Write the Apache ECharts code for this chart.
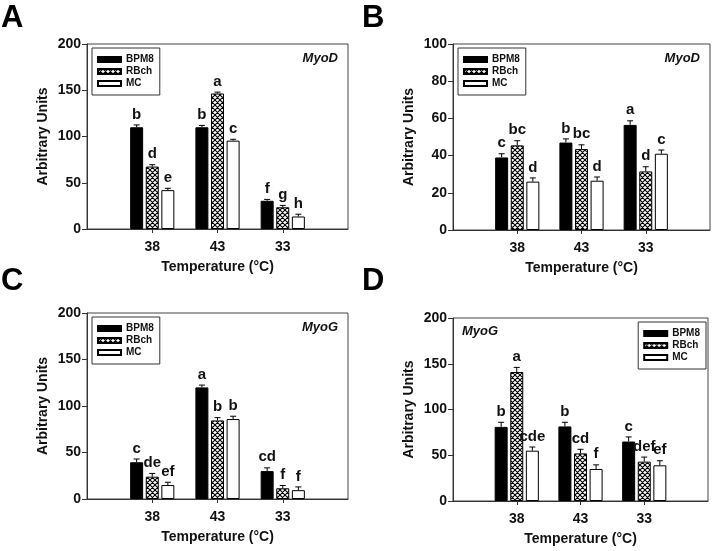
<!DOCTYPE html>
<html><head><meta charset="utf-8">
<script src="https://cdn.jsdelivr.net/npm/echarts@6/dist/echarts.min.js"></script>
<style>html,body{margin:0;padding:0;background:#fff}#c{width:714px;height:551px}</style>
</head><body><div id="c"></div>
<script>
// ---------- data ----------
const categories = ['38', '43', '33'];
const seriesNames = ['BPM8', 'RBch', 'MC'];
const panelLetters = ['A', 'B', 'C', 'D'];
const geneNames = ['MyoD', 'MyoD', 'MyoG', 'MyoG'];
const yMaxes = [200, 100, 200, 200];
const yIntervals = [50, 20, 50, 50];

// Panel A (MyoD)
const a_bpm8 = [110, 110, 30.5];
const a_rbch = [67.5, 146.5, 23.5];
const a_mc = [42, 95.5, 13.5];
const a_bpm8_err = [2.5, 2, 1.5];
const a_rbch_err = [2, 1.5, 2];
const a_mc_err = [2, 1.5, 2.5];
const a_bpm8_sig = ['b', 'b', 'f'];
const a_rbch_sig = ['d', 'a', 'g'];
const a_mc_sig = ['e', 'c', 'h'];

// Panel B (MyoD)
const b_bpm8 = [39, 47, 56.5];
const b_rbch = [45.5, 43.5, 31.5];
const b_mc = [26, 26.5, 41];
const b_bpm8_err = [2, 2, 2.2];
const b_rbch_err = [2.5, 2.3, 2.5];
const b_mc_err = [2, 2, 2];
const b_bpm8_sig = ['c', 'b', 'a'];
const b_rbch_sig = ['bc', 'bc', 'd'];
const b_mc_sig = ['d', 'd', 'c'];

// Panel C (MyoG)
const c_bpm8 = [39.5, 120, 30];
const c_rbch = [24, 84.5, 11.5];
const c_mc = [15, 86, 9.5];
const c_bpm8_err = [3.5, 2.5, 3.5];
const c_rbch_err = [3.5, 3, 3];
const c_mc_err = [3, 3, 3.5];
const c_bpm8_sig = ['c', 'a', 'cd'];
const c_rbch_sig = ['de', 'b', 'f'];
const c_mc_sig = ['ef', 'b', 'f'];

// Panel D (MyoG)
const d_bpm8 = [81, 81.5, 65];
const d_rbch = [141, 52, 43];
const d_mc = [55, 35, 39];
const d_bpm8_err = [5, 4.5, 5];
const d_rbch_err = [5, 4.5, 5];
const d_mc_err = [4, 4.5, 5];
const d_bpm8_sig = ['b', 'b', 'c'];
const d_rbch_sig = ['a', 'cd', 'def'];
const d_mc_sig = ['cde', 'f', 'ef'];

// ---------- build ----------
const panelVals = [[a_bpm8, a_rbch, a_mc], [b_bpm8, b_rbch, b_mc], [c_bpm8, c_rbch, c_mc], [d_bpm8, d_rbch, d_mc]];
const panelErrs = [[a_bpm8_err, a_rbch_err, a_mc_err], [b_bpm8_err, b_rbch_err, b_mc_err], [c_bpm8_err, c_rbch_err, c_mc_err], [d_bpm8_err, d_rbch_err, d_mc_err]];
const panelSigs = [[a_bpm8_sig, a_rbch_sig, a_mc_sig], [b_bpm8_sig, b_rbch_sig, b_mc_sig], [c_bpm8_sig, c_rbch_sig, c_mc_sig], [d_bpm8_sig, d_rbch_sig, d_mc_sig]];

const FONT = 'Arial, "Liberation Sans", sans-serif';
const BAR_W = 13;
const GAP = 0.2;
const AXIS_COLOR = '#333';

const grids = [
  { left: 87, top: 44, width: 261, height: 185 },
  { left: 453, top: 44, width: 257, height: 186 },
  { left: 87, top: 313, width: 261, height: 186 },
  { left: 453, top: 318, width: 255, height: 183 }
];

function makeHatch() {
  const n = 5;
  const c = document.createElement('canvas');
  c.width = n; c.height = n;
  const g = c.getContext('2d');
  g.fillStyle = '#fff';
  g.fillRect(0, 0, n, n);
  g.strokeStyle = '#000';
  g.lineWidth = 1.1;
  g.beginPath();
  for (let k = -n; k <= n; k += n) {
    g.moveTo(k, 0); g.lineTo(k + n, n);
    g.moveTo(k + n, 0); g.lineTo(k, n);
  }
  g.stroke();
  return c;
}
const hatch = makeHatch();

const barStyles = [
  { color: '#000', borderColor: '#000', borderWidth: 1 },
  { color: { image: hatch, repeat: 'repeat' }, borderColor: '#000', borderWidth: 1 },
  { color: '#fff', borderColor: '#000', borderWidth: 1 }
];

const xAxes = [], yAxes = [], series = [], legends = [], graphics = [];
const padCats = [''].concat(categories).concat(['']);

grids.forEach((gr, p) => {
  xAxes.push({
    type: 'category', gridIndex: p, data: padCats, boundaryGap: false,
    axisLine: { show: true, lineStyle: { color: AXIS_COLOR, width: 1 } },
    axisTick: { show: true, length: 4, interval: (i) => i > 0 && i < padCats.length - 1, lineStyle: { color: AXIS_COLOR } },
    axisLabel: { interval: 0, margin: 11, color: '#111', fontFamily: FONT, fontWeight: 'bold', fontSize: 14 },
    splitLine: { show: false },
    name: 'Temperature (°C)', nameLocation: 'middle', nameGap: 31,
    nameTextStyle: { color: '#111', fontFamily: FONT, fontWeight: 'bold', fontSize: 14 }
  });
  yAxes.push({
    type: 'value', gridIndex: p, min: 0, max: yMaxes[p], interval: yIntervals[p],
    axisLine: { show: true, lineStyle: { color: AXIS_COLOR, width: 1 } },
    axisTick: { show: true, length: 5, lineStyle: { color: AXIS_COLOR } },
    axisLabel: { margin: 6, color: '#111', fontFamily: FONT, fontWeight: 'bold', fontSize: 14 },
    splitLine: { show: false },
    name: 'Arbitrary Units', nameLocation: 'middle', nameGap: 37, nameRotate: 90,
    nameTextStyle: { color: '#111', fontFamily: FONT, fontWeight: 'bold', fontSize: 14 }
  });
  for (let s = 0; s < 3; s++) {
    series.push({
      type: 'bar', name: seriesNames[s], xAxisIndex: p, yAxisIndex: p,
      barWidth: BAR_W, barGap: (GAP * 100) + '%',
      data: [null].concat(panelVals[p][s]).concat([null]),
      itemStyle: barStyles[s], silent: true, animation: false
    });
  }
  const errData = [];
  for (let s = 0; s < 3; s++) {
    for (let k = 0; k < categories.length; k++) {
      errData.push([k + 1, panelVals[p][s][k], panelErrs[p][s][k], s]);
    }
  }
  series.push({
    type: 'custom', xAxisIndex: p, yAxisIndex: p, z: 5, silent: true, animation: false,
    encode: { x: 0, y: 1 },
    data: errData,
    renderItem: (params, api) => {
      const cat = api.value(0), v = api.value(1), e = api.value(2), s = api.value(3);
      const base = api.coord([cat, v]);
      const top = api.coord([cat, v + e]);
      const x = base[0] + (s - 1) * BAR_W * (1 + GAP);
      const label = panelSigs[p][s][cat - 1];
      return {
        type: 'group', children: [
          { type: 'line', shape: { x1: x, y1: base[1], x2: x, y2: top[1] }, style: { stroke: '#000', lineWidth: 1 } },
          { type: 'line', shape: { x1: x - 3, y1: top[1], x2: x + 3, y2: top[1] }, style: { stroke: '#000', lineWidth: 1 } },
          { type: 'text', x: x, y: top[1] - 3, style: { text: label, fill: '#111', font: 'bold 15px ' + FONT, textAlign: 'center', textVerticalAlign: 'bottom' } }
        ]
      };
    }
  });
  const leg = {
    orient: 'vertical', top: gr.top + 4, data: seriesNames, icon: 'rect',
    itemWidth: 23, itemHeight: 5, itemGap: 1,
    padding: [6, 6, 6, 5], borderColor: '#333', borderWidth: 1, backgroundColor: '#fff',
    textStyle: { fontFamily: FONT, fontWeight: 'bold', fontSize: 10, color: '#111', lineHeight: 11 },
    selectedMode: false
  };
  if (p === 3) leg.right = 714 - (gr.left + gr.width) + 2; else leg.left = gr.left + 5;
  legends.push(leg);

  // panel letter
  graphics.push({
    type: 'text', left: p % 2 === 0 ? 1 : 362, top: p < 2 ? 3 : 266,
    style: { text: panelLetters[p], font: 'bold 31px ' + FONT, fill: '#000' }
  });
  // gene name
  const geneStyle = { text: geneNames[p], font: 'italic bold 13px ' + FONT, fill: '#111' };
  if (p === 3) {
    graphics.push({ type: 'text', x: gr.left + 9, y: gr.top + 13, style: Object.assign({ textAlign: 'left', textVerticalAlign: 'middle' }, geneStyle) });
  } else {
    graphics.push({ type: 'text', x: gr.left + gr.width - 10, y: gr.top + 14, style: Object.assign({ textAlign: 'right', textVerticalAlign: 'middle' }, geneStyle) });
  }
});

const chart = echarts.init(document.getElementById('c'), null, { renderer: 'canvas' });
chart.setOption({
  animation: false,
  backgroundColor: '#fff',
  grid: grids.map(g => Object.assign({ show: true, borderColor: '#444', borderWidth: 1, backgroundColor: 'transparent', containLabel: false }, g)),
  xAxis: xAxes,
  yAxis: yAxes,
  legend: legends,
  series: series,
  graphic: graphics
});
</script>
</body></html>
